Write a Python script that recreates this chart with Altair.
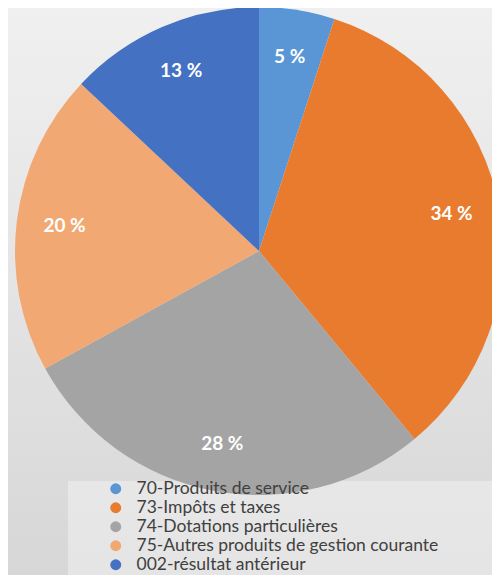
import altair as alt
import pandas as pd

categories = [
    "70-Produits de service",
    "73-Impôts et taxes",
    "74-Dotations particulières",
    "75-Autres produits de gestion courante",
    "002-résultat antérieur",
]
values = [5, 34, 28, 20, 13]
labels = ["5 %", "34 %", "28 %", "20 %", "13 %"]
colors = ["#5a96d6", "#e97b2f", "#a4a4a4", "#f1a872", "#4571c3"]

df = pd.DataFrame({"cat": categories, "val": values, "lab": labels, "ord": list(range(len(categories)))})

W, H = 484, 567
CX, CY, R = 251, 243, 244

grad = alt.LinearGradient(
    gradient="linear",
    stops=[alt.GradientStop(color="#f0f0f0", offset=0), alt.GradientStop(color="#d7d7d7", offset=1)],
    x1=0, x2=0, y1=0, y2=1,
)

bg = alt.Chart(alt.Data(values=[{}])).mark_rect(color=grad).encode(
    x=alt.value(0), x2=alt.value(W), y=alt.value(0), y2=alt.value(H)
)

box = alt.Chart(alt.Data(values=[{}])).mark_rect(color="white", opacity=0.35).encode(
    x=alt.value(60), x2=alt.value(W), y=alt.value(473), y2=alt.value(H)
)

base = alt.Chart(df).encode(
    theta=alt.Theta("val:Q", stack=True),
    order=alt.Order("ord:Q"),
)

pie = base.mark_arc(outerRadius=R).encode(
    color=alt.Color(
        "cat:N",
        scale=alt.Scale(domain=categories, range=colors),
        legend=alt.Legend(
            title=None,
            orient="none",
            legendX=99,
            legendY=472,
            symbolType="circle",
            symbolSize=120,
            symbolOpacity=1,
            symbolStrokeWidth=0,
            labelFont="Lato",
            labelFontSize=17.5,
            labelColor="#404040",
            labelLimit=0,
            labelOffset=12,
            rowPadding=0,
            padding=0,
        ),
    ),
    x=alt.value(CX),
    y=alt.value(CY),
)

text = base.mark_text(radius=196, font="Lato", fontWeight="bold", fontSize=19, color="white").encode(
    text="lab:N", x=alt.value(CX), y=alt.value(CY)
)

chart = alt.layer(bg, box, pie, text).properties(
    width=W, height=H, padding=0, autosize=alt.AutoSizeParams(type="none")
).configure_view(stroke=None)

chart.save("out.html", embed_options={"renderer": "svg", "actions": False})
